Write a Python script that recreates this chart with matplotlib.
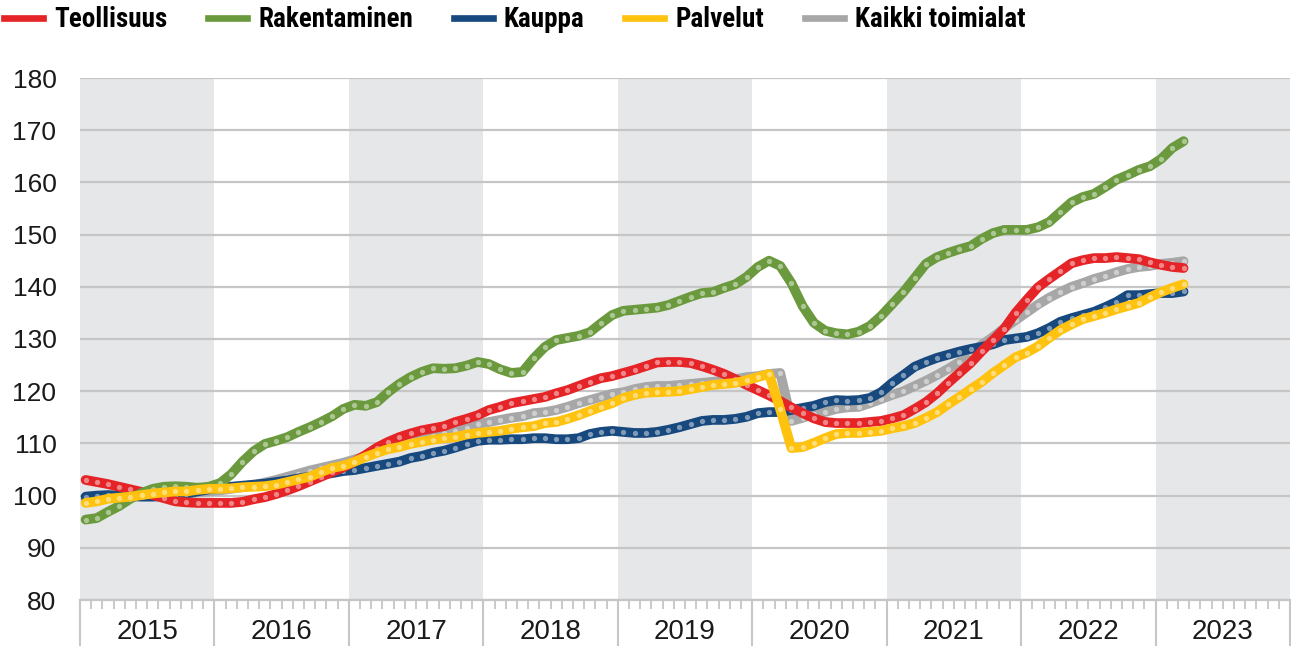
# ── imports ──────────────────────────────────────────────────────────────────
import matplotlib
matplotlib.use('Agg')
import matplotlib.pyplot as plt
from matplotlib import font_manager
from matplotlib.lines import Line2D

# ── data (monthly index, Jan 2015 .. Mar 2023) ───────────────────────────────
years = ['2015', '2016', '2017', '2018', '2019', '2020', '2021', '2022', '2023']

teollisuus = [103.0, 102.6, 102.2, 101.7, 101.2, 100.7, 100.1, 99.5, 98.9, 98.7, 98.6, 98.6,
              98.6, 98.6, 98.8, 99.3, 99.7, 100.3, 101.0, 101.8, 102.7, 103.6, 104.5, 105.4,
              106.5, 107.8, 109.2, 110.3, 111.2, 111.9, 112.5, 112.9, 113.3, 114.1, 114.7, 115.4,
              116.4, 117.0, 117.7, 118.1, 118.5, 118.9, 119.6, 120.2, 121.0, 121.8, 122.5, 122.9,
              123.5, 124.1, 124.8, 125.5, 125.6, 125.6, 125.4, 124.8, 124.1, 123.3, 122.3, 121.2,
              120.2, 119.2, 118.1, 116.9, 115.8, 114.8, 114.1, 113.9, 113.9, 113.9, 114.1, 114.3,
              114.8, 115.4, 116.6, 117.9, 119.6, 121.6, 123.5, 125.4, 127.7, 129.8, 132.0, 135.0,
              137.5, 139.9, 141.5, 143.0, 144.5, 145.1, 145.5, 145.5, 145.7, 145.5, 145.3, 144.7,
              144.2, 143.8, 143.6]

rakentaminen = [95.4, 95.7, 96.9, 98.0, 99.4, 100.5, 101.3, 101.7, 101.8, 101.7, 101.5, 101.7,
                102.4, 104.1, 106.5, 108.5, 109.9, 110.5, 111.2, 112.2, 113.1, 114.1, 115.2, 116.6,
                117.4, 117.2, 117.9, 119.8, 121.4, 122.7, 123.7, 124.4, 124.3, 124.4, 124.9, 125.6,
                125.2, 124.2, 123.5, 123.7, 126.3, 128.5, 129.8, 130.2, 130.6, 131.3, 133.0, 134.6,
                135.4, 135.6, 135.8, 136.0, 136.5, 137.3, 138.1, 138.8, 139.0, 139.8, 140.5, 141.9,
                143.8, 145.0, 144.0, 140.7, 136.3, 133.1, 131.6, 131.1, 130.9, 131.4, 132.5, 134.4,
                136.7, 139.0, 141.7, 144.4, 145.7, 146.5, 147.2, 147.8, 149.2, 150.3, 150.9, 150.9,
                150.9, 151.4, 152.4, 154.3, 156.2, 157.2, 157.8, 159.1, 160.5, 161.4, 162.4, 163.1,
                164.5, 166.6, 167.9]

kauppa = [99.8, 100.0, 100.1, 100.0, 99.9, 99.8, 99.8, 99.9, 100.1, 100.4, 100.8, 101.2,
          101.5, 101.7, 101.9, 102.1, 102.3, 102.6, 102.9, 103.3, 103.6, 104.0, 104.3, 104.7,
          104.9, 105.3, 105.7, 106.1, 106.5, 107.2, 107.6, 108.2, 108.6, 109.2, 109.9, 110.5,
          110.7, 110.7, 110.8, 110.8, 111.0, 111.0, 110.8, 110.8, 111.0, 111.8, 112.2, 112.4,
          112.2, 112.0, 112.0, 112.2, 112.6, 113.1, 113.7, 114.3, 114.5, 114.5, 114.7, 115.1,
          115.8, 116.0, 116.0, 116.4, 116.8, 117.2, 117.9, 118.3, 118.2, 118.3, 118.7, 119.8,
          121.6, 123.1, 124.7, 125.6, 126.4, 127.0, 127.6, 128.1, 128.5, 129.0, 129.8, 130.1,
          130.4, 131.1, 132.1, 133.3, 134.0, 134.6, 135.2, 136.1, 137.1, 138.4, 138.4, 138.6,
          138.8, 138.8, 139.1]

palvelut = [98.6, 98.9, 99.4, 99.6, 99.8, 100.1, 100.4, 100.6, 100.8, 100.8, 101.1, 101.3,
            101.3, 101.4, 101.6, 101.7, 101.8, 102.1, 102.6, 103.1, 103.6, 104.5, 105.3, 105.7,
            106.5, 107.4, 108.2, 108.9, 109.3, 109.9, 110.3, 110.7, 111.0, 111.2, 111.7, 112.0,
            112.2, 112.4, 112.8, 113.1, 113.3, 113.9, 114.1, 114.7, 115.4, 116.2, 117.0, 117.7,
            118.7, 119.3, 119.7, 119.8, 119.9, 120.0, 120.4, 120.8, 121.2, 121.4, 121.6, 122.1,
            122.7, 123.3, 116.5, 109.1, 109.3, 110.1, 111.0, 111.8, 112.0, 112.0, 112.2, 112.4,
            112.9, 113.3, 113.9, 114.9, 116.0, 117.5, 118.9, 120.4, 121.8, 123.5, 125.0, 126.5,
            127.4, 128.6, 130.2, 131.7, 132.8, 133.8, 134.4, 135.0, 135.7, 136.3, 136.9, 138.0,
            139.0, 139.8, 140.5]

kaikki = [99.3, 99.5, 99.7, 99.8, 99.9, 100.0, 100.1, 100.2, 100.3, 100.4, 100.6, 100.8,
          101.0, 101.3, 101.6, 102.0, 102.5, 103.0, 103.6, 104.2, 104.8, 105.3, 105.8, 106.3,
          106.9, 107.6, 108.3, 109.0, 109.6, 110.2, 110.8, 111.4, 111.9, 112.4, 112.9, 113.7,
          114.1, 114.5, 114.9, 115.2, 115.8, 116.0, 116.4, 117.0, 117.7, 118.3, 118.9, 119.5,
          119.8, 120.4, 120.8, 121.0, 121.0, 121.2, 121.4, 121.6, 121.8, 122.1, 122.3, 122.7,
          122.9, 123.3, 123.5, 114.3, 114.9, 115.6, 116.0, 116.6, 116.9, 117.0, 117.7, 118.5,
          119.3, 120.0, 121.0, 122.0, 123.1, 124.3, 125.6, 127.3, 128.9, 130.4, 132.1, 133.6,
          135.1, 136.6, 137.9, 139.0, 140.0, 140.7, 141.5, 142.1, 142.8, 143.4, 143.8, 144.0,
          144.4, 144.6, 144.9]

labels = ['Teollisuus', 'Rakentaminen', 'Kauppa', 'Palvelut', 'Kaikki toimialat']
colors = ['#E52428', '#6B9A3E', '#17497F', '#FFC20E', '#A7A7A7']
series = [teollisuus, rakentaminen, kauppa, palvelut, kaikki]

# ── fonts ────────────────────────────────────────────────────────────────────
names = {f.name for f in font_manager.fontManager.ttflist}
cond = next((n for n in ['Roboto Condensed', 'Liberation Sans Narrow'] if n in names), None)
if cond:
    leg_font = dict(family=cond, weight='bold', size=19.5)
else:
    leg_font = dict(family='DejaVu Sans', weight='bold', stretch='condensed', size=15)
plt.rcParams['font.family'] = ['Liberation Sans', 'DejaVu Sans']

# ── figure ───────────────────────────────────────────────────────────────────
W, H = 1291, 646
fig = plt.figure(figsize=(W / 100, H / 100), dpi=100)
ax = fig.add_axes([80 / W, 46 / H, 1210 / W, 522 / H])

# shaded odd years
for i in range(0, len(years), 2):
    ax.axvspan(12 * i, 12 * (i + 1), color='#E6E7E9', lw=0, zorder=0)

grid_c = '#C6C6C6'
ax.set_ylim(80, 180)
ax.set_xlim(0, 12 * len(years))
ax.set_yticks(range(80, 181, 10))
ax.yaxis.grid(True, color=grid_c, lw=1.6, zorder=0.5)
ax.set_axisbelow(True)
ax.tick_params(axis='y', length=0, pad=17, labelsize=19, labelcolor='#1a1a1a')

for s in ['top', 'right', 'left']:
    ax.spines[s].set_visible(False)
ax.spines['bottom'].set_color(grid_c)
ax.spines['bottom'].set_linewidth(1.6)

# month ticks and year separators
ax.set_xticks(range(0, 12 * len(years) + 1, 12))
ax.set_xticklabels([])
ax.set_xticks(range(0, 12 * len(years) + 1), minor=True)
ax.tick_params(axis='x', which='major', length=34, width=1.5, color=grid_c)
ax.tick_params(axis='x', which='minor', length=6.5, width=1.3, color=grid_c)
for i, yr in enumerate(years):
    ax.text(12 * i + 6, -32 / 522, yr, transform=ax.get_xaxis_transform(),
            ha='center', va='center', fontsize=20, color='#1a1a1a')

# ── lines (grey at the bottom, yellow on top) ────────────────────────────────
x = [k + 0.5 for k in range(len(teollisuus))]
order = [4, 2, 0, 1, 3]
for z, i in enumerate(order):
    ax.plot(x, series[i], color=colors[i], lw=7, solid_capstyle='round',
            solid_joinstyle='round', marker='o', ms=3.8, mfc=(1, 1, 1, 0.45),
            mec='none', zorder=3 + z)

# ── legend ───────────────────────────────────────────────────────────────────
handles = [Line2D([], [], color=c, lw=4.8) for c in colors]
fig.legend(handles, labels, loc='upper left', bbox_to_anchor=(4 / W, 1 - 6 / H),
           ncol=5, frameon=False, prop=leg_font, handlelength=1.45,
           handletextpad=0.4, columnspacing=1.5, borderpad=0, borderaxespad=0)

fig.savefig('out.png', dpi=100)
